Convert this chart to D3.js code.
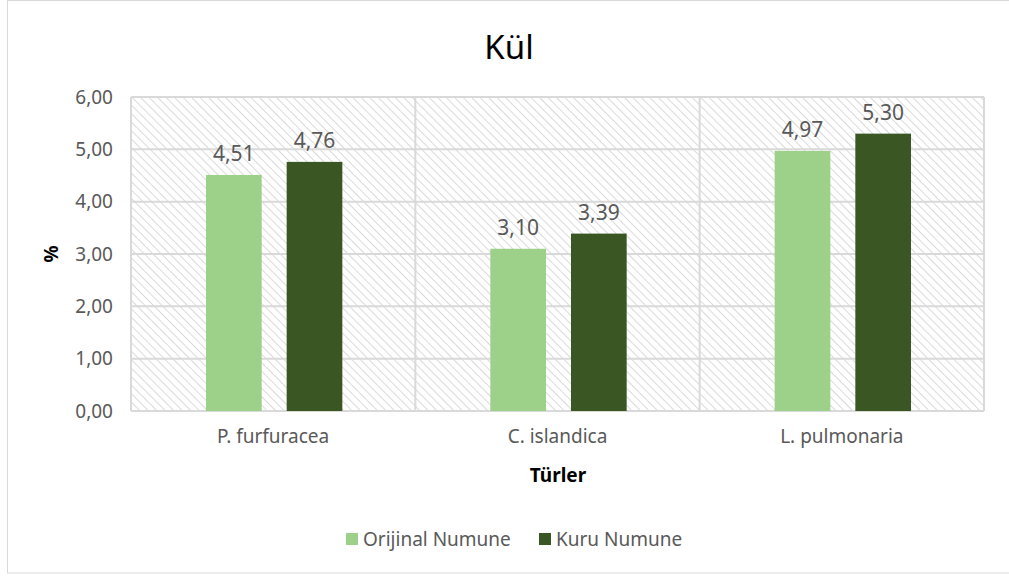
<!DOCTYPE html>
<html>
<head>
<meta charset="utf-8">
<script src="https://cdn.jsdelivr.net/npm/d3@7"></script>
<style>
  body { margin: 0; background: #fff; }
  svg { font-family: "Noto Sans", "Open Sans", sans-serif; }
</style>
</head>
<body>
<svg id="chart" width="1009" height="576"></svg>
<script>
var categories = ["P. furfuracea", "C. islandica", "L. pulmonaria"];
var seriesNames = ["Orijinal Numune", "Kuru Numune"];
var orijinal = [4.51, 3.10, 4.97];
var kuru = [4.76, 3.39, 5.30];
var yTicks = [0, 1, 2, 3, 4, 5, 6];
var colors = ["#9dd089", "#3a5723"];

var svg = d3.select("#chart");
var margin = { top: 97, left: 131, right: 25, bottom: 165 };
var width = 984 - 131;
var height = 411 - 97;
var comma = function (v) { return v.toFixed(2).replace(".", ","); };

// chart frame
svg.append("rect")
	.attr("x", 7.5).attr("y", 0.5)
	.attr("width", 1020).attr("height", 572.5)
	.attr("fill", "#fff").attr("stroke", "#d9d9d9");

// hatch pattern
var pat = svg.append("defs").append("pattern")
	.attr("id", "hatch")
	.attr("patternUnits", "userSpaceOnUse")
	.attr("width", 6).attr("height", 6)
	.attr("patternTransform", "rotate(-45)");
pat.append("rect").attr("width", 6).attr("height", 6).attr("fill", "#fff");
pat.append("line")
	.attr("x1", 0).attr("y1", 0).attr("x2", 0).attr("y2", 6)
	.attr("stroke", "#dadada").attr("stroke-width", 2);

var g = svg.append("g")
	.attr("transform", "translate(" + margin.left + "," + margin.top + ")");

var x0 = d3.scaleBand().domain(categories).range([0, width]);
var x1 = d3.scaleBand().domain(seriesNames).range([75, x0.bandwidth() - 73]).paddingInner(0.31);
var y = d3.scaleLinear().domain([0, 6]).range([height, 0]);

g.append("rect")
	.attr("width", width).attr("height", height)
	.attr("fill", "url(#hatch)");

// gridlines
g.append("g").selectAll("line")
	.data(yTicks)
	.enter().append("line")
	.attr("x1", 0).attr("x2", width)
	.attr("y1", function (d) { return y(d); })
	.attr("y2", function (d) { return y(d); })
	.attr("stroke", "#d9d9d9").attr("stroke-width", 2);

// vertical lines between categories
g.append("g").selectAll("line")
	.data(d3.range(categories.length + 1))
	.enter().append("line")
	.attr("x1", function (i) { return i * x0.bandwidth(); })
	.attr("x2", function (i) { return i * x0.bandwidth(); })
	.attr("y1", 0).attr("y2", height)
	.attr("stroke", "#d9d9d9").attr("stroke-width", 2);

// y axis labels
var yAxis = g.append("g")
	.call(d3.axisLeft(y).tickValues(yTicks).tickFormat(comma).tickSize(0).tickPadding(18));
yAxis.select(".domain").remove();
yAxis.selectAll("text")
	.attr("font-size", 19).attr("fill", "#595959").attr("font-family", "Noto Sans");

// x axis labels
var xAxis = g.append("g")
	.attr("transform", "translate(0," + height + ")")
	.call(d3.axisBottom(x0).tickSize(0).tickPadding(19));
xAxis.select(".domain").remove();
xAxis.selectAll("text")
	.attr("font-size", 19).attr("fill", "#595959").attr("font-family", "Noto Sans");

var rows = categories.map(function (c, i) {
	return { cat: c, vals: [orijinal[i], kuru[i]] };
});

var groups = g.selectAll(".grp")
	.data(rows)
	.enter().append("g")
	.attr("class", "grp")
	.attr("transform", function (d) { return "translate(" + x0(d.cat) + ",0)"; });

groups.selectAll("rect")
	.data(function (d) { return d.vals.map(function (v, j) { return { s: seriesNames[j], v: v, j: j }; }); })
	.enter().append("rect")
	.attr("x", function (d) { return x1(d.s); })
	.attr("width", x1.bandwidth())
	.attr("y", function (d) { return y(d.v); })
	.attr("height", function (d) { return height - y(d.v); })
	.attr("fill", function (d) { return colors[d.j]; });

groups.selectAll(".lbl")
	.data(function (d) { return d.vals.map(function (v, j) { return { s: seriesNames[j], v: v }; }); })
	.enter().append("text")
	.attr("class", "lbl")
	.attr("x", function (d) { return x1(d.s) + x1.bandwidth() / 2; })
	.attr("y", function (d) { return y(d.v) - 14; })
	.attr("text-anchor", "middle")
	.attr("font-size", 21).attr("fill", "#595959")
	.text(function (d) { return comma(d.v); });

// title
svg.append("text")
	.attr("x", 509).attr("y", 59)
	.attr("text-anchor", "middle")
	.attr("font-size", 33).attr("fill", "#000")
	.text("Kül");

// axis titles
svg.append("text")
	.attr("transform", "translate(58,254) rotate(-90)")
	.attr("text-anchor", "middle")
	.attr("font-size", 19).attr("font-weight", "bold").attr("fill", "#000")
	.text("%");

svg.append("text")
	.attr("x", 558).attr("y", 482)
	.attr("text-anchor", "middle")
	.attr("font-size", 19).attr("font-weight", "bold").attr("fill", "#000")
	.text("Türler");

// legend
var legendX = [346, 539];
var leg = svg.append("g").selectAll("g")
	.data(seriesNames)
	.enter().append("g")
	.attr("transform", function (d, i) { return "translate(" + legendX[i] + ",533)"; });
leg.append("rect")
	.attr("width", 12).attr("height", 12)
	.attr("fill", function (d, i) { return colors[i]; });
leg.append("text")
	.attr("x", 17).attr("y", 13)
	.attr("font-size", 19).attr("fill", "#595959")
	.text(function (d) { return d; });
</script>
</body>
</html>
